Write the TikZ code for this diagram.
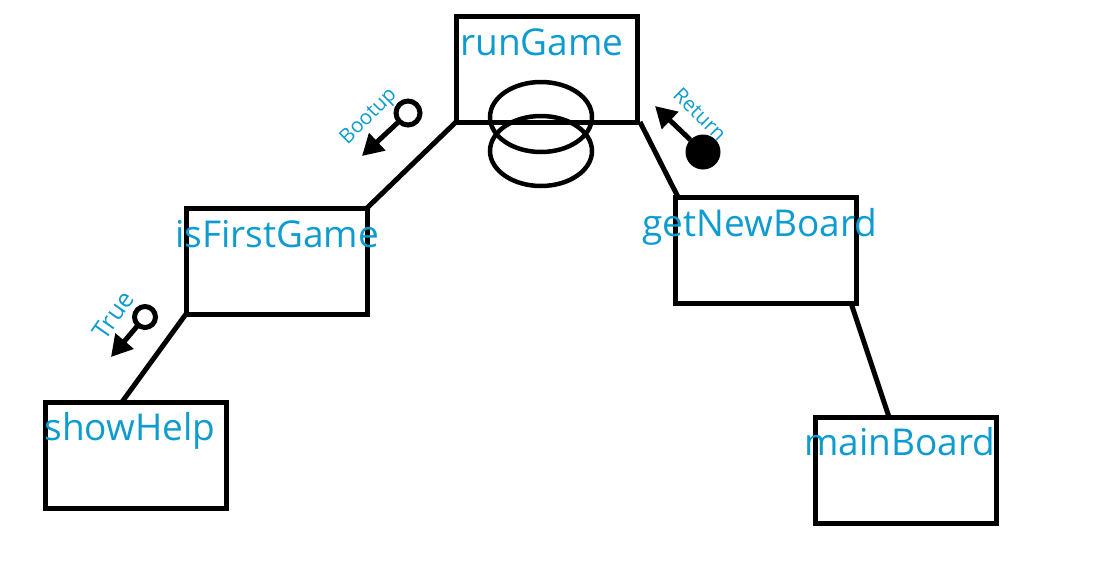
\documentclass[tikz,border=0pt]{standalone}
\usepackage{fontspec}
\setmainfont{Open Sans}
\usetikzlibrary{arrows.meta,calc}
\definecolor{lbl}{RGB}{14,155,208}
\tikzset{
  box/.style={draw, line width=5pt, minimum width=181pt, minimum height=106pt, inner sep=0pt, outer sep=0pt},
  boxtxt/.style={text=lbl, font=\fontsize{37}{42}\selectfont, inner sep=0pt, anchor=base},
  smalltxt/.style={text=lbl, font=\fontsize{20.5}{24}\selectfont, inner sep=0pt},
  conn/.style={line width=5pt},
  arr/.style={line width=5pt, -{Triangle[length=21pt,width=23pt]}},
  opendot/.style={circle, draw, line width=5pt, fill=white, inner sep=0pt, outer sep=0pt},
  filldot/.style={circle, fill=black, inner sep=0pt, outer sep=0pt, minimum size=35pt}
}
\begin{document}
\begin{tikzpicture}[x=1pt,y=-1pt]
\useasboundingbox (0,0) rectangle (1111,565);
% boxes
\node[box] (rg) at (546.5,69) {};
\node[box] (ifg) at (276.5,261) {};
\node[box] (sh) at (135.5,455.5) {};
\node[box] (gnb) at (765.5,250) {};
\node[box] (mb) at (905.5,470) {};
% loop rings
\draw[line width=4.5pt] (541,117) ellipse [x radius=51, y radius=35];
\draw[line width=4.5pt] (541,151) ellipse [x radius=51, y radius=35];
% labels
\node[boxtxt] (rgt) at (542,55) {runGame};
\node[boxtxt] (ifgt) at (277,247) {isFirstGame};
\node[boxtxt] (sht) at (130,440) {showHelp};
\node[boxtxt] (gnbt) at (760,236) {getNewBoard};
\node[boxtxt] (mbt) at (900,455) {mainBoard};
% connectors
\coordinate (rgR) at (640,122);
\coordinate (gnbL) at (678,197);
\coordinate (shT) at (122,402);
\coordinate (gnbB) at (851,303);
\coordinate (mbT) at (889,417);
\draw[conn] (rg.south west) -- (ifg.north east);
\draw[conn] (rgR) -- (gnbL);
\draw[conn] (ifg.south west) -- (shT);
\draw[conn] (gnbB) -- (mbT);
% Bootup
\node[opendot, minimum size=24pt] (bd) at (408,113) {};
\coordinate (bt) at (362,156);
\draw[arr] (bd) -- (bt);
\node[smalltxt, rotate=45] (bl) at (369,117) {Bootup};
% Return
\node[filldot] (rd) at (703,152) {};
\coordinate (rt) at (655,106);
\draw[arr] (rd) -- (rt);
\node[smalltxt, rotate=-45] (rl) at (700,114) {Return};
% True
\node[opendot, minimum size=21pt] (td) at (145,317) {};
\coordinate (tt) at (111,357);
\draw[arr] (td) -- (tt);
\node[text=lbl, font=\fontsize{25}{29}\selectfont, inner sep=0pt, rotate=55] (tl) at (113,315) {True};
\end{tikzpicture}
\end{document}
